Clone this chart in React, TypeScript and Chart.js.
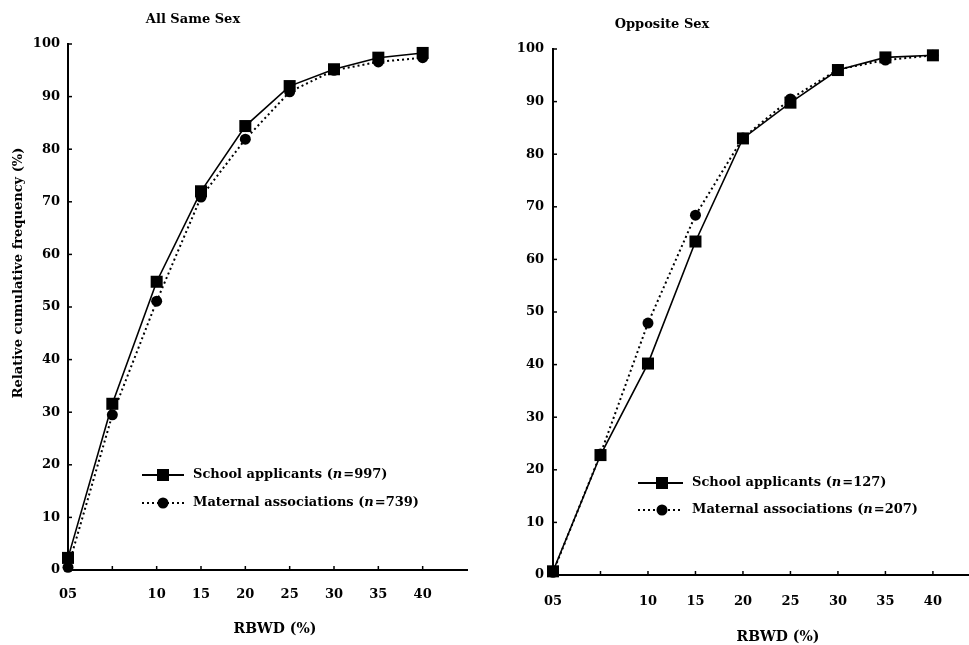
import React, { useEffect, useRef } from "react";
import { Chart, registerables } from "chart.js";

Chart.register(...registerables);

// ---------- data ----------
const xValues = [0, 5, 10, 15, 20, 25, 30, 35, 40];
const xTickLabels = ["05", "", "10", "15", "20", "25", "30", "35", "40"];
const seriesNames = ["School applicants", "Maternal associations"];

const sameSexSchool = [2.3, 31.6, 54.8, 72.0, 84.4, 92.0, 95.2, 97.4, 98.3];
const sameSexMaternal = [0.5, 29.5, 51.1, 70.9, 81.9, 90.9, 95.0, 96.6, 97.4];
const sameSexN = [997, 739];

const oppSexSchool = [0.7, 22.8, 40.2, 63.4, 83.0, 89.8, 96.0, 98.4, 98.8];
const oppSexMaternal = [0.5, 23.0, 47.9, 68.4, 83.1, 90.5, 96.1, 97.9, 98.8];
const oppSexN = [127, 207];

const panelTitles = ["All Same Sex", "Opposite Sex"];
const yAxisTitle = "Relative cumulative frequency (%)";
const xAxisTitle = "RBWD (%)";

const FONT = '"DejaVu Serif", "Liberation Serif", serif';

type PanelSpec = {
  width: number;
  height: number;
  chartLeft: number;
  chartTop: number;
  chartBottom: number;
  chartRightPad: number;
  xMax: number;
  title: string;
  titleX: number;
  titleY: number;
  showYTitle: boolean;
  yTitleX: number;
  yTitleY: number;
  xTitleX: number;
  xTitleY: number;
  legendRows: number[];
  legendLine: number[];
  legendMarkerX: number;
  legendTextX: number;
  school: number[];
  maternal: number[];
  nValues: number[];
  tickPadX: number;
  tickPadY: number;
};

function makeDecor(spec: PanelSpec) {
  return {
    id: "decor",
    afterDraw(chart: any) {
      const ctx: CanvasRenderingContext2D = chart.ctx;
      const xs = chart.scales.x;
      const ys = chart.scales.y;
      ctx.save();
      ctx.strokeStyle = "#000";
      ctx.fillStyle = "#000";
      ctx.lineWidth = 1.5;
      // inward tick marks
      ys.ticks.forEach((t: any) => {
        const py = ys.getPixelForValue(t.value);
        ctx.beginPath();
        ctx.moveTo(ys.right, py);
        ctx.lineTo(ys.right + 4, py);
        ctx.stroke();
      });
      xs.ticks.forEach((t: any) => {
        const px = xs.getPixelForValue(t.value);
        ctx.beginPath();
        ctx.moveTo(px, xs.top);
        ctx.lineTo(px, xs.top - 4);
        ctx.stroke();
      });

      // titles
      ctx.textAlign = "center";
      ctx.textBaseline = "middle";
      ctx.font = `bold 13px ${FONT}`;
      ctx.fillText(spec.title, spec.titleX, spec.titleY);
      ctx.font = `bold 14px ${FONT}`;
      ctx.fillText(xAxisTitle, spec.xTitleX, spec.xTitleY);
      if (spec.showYTitle) {
        ctx.save();
        ctx.translate(spec.yTitleX, spec.yTitleY);
        ctx.rotate(-Math.PI / 2);
        ctx.font = `bold 13px ${FONT}`;
        ctx.fillText(yAxisTitle, 0, 0);
        ctx.restore();
      }

      // legend
      ctx.textAlign = "left";
      for (let i = 0; i < 2; i++) {
        const y = spec.legendRows[i];
        ctx.save();
        ctx.lineWidth = 2;
        ctx.setLineDash(i === 0 ? [] : [2, 3]);
        ctx.beginPath();
        ctx.moveTo(spec.legendLine[0], y);
        ctx.lineTo(spec.legendLine[1], y);
        ctx.stroke();
        ctx.restore();
        ctx.beginPath();
        if (i === 0) {
          ctx.rect(spec.legendMarkerX - 6, y - 6, 12, 12);
        } else {
          ctx.arc(spec.legendMarkerX, y, 5.5, 0, Math.PI * 2);
        }
        ctx.fill();
        let x = spec.legendTextX;
        const parts: [string, string][] = [
          [seriesNames[i] + " (", "bold"],
          ["n", "italic bold"],
          ["=" + spec.nValues[i] + ")", "bold"],
        ];
        parts.forEach(([txt, style]) => {
          ctx.font = `${style} 13px ${FONT}`;
          ctx.fillText(txt, x, y);
          x += ctx.measureText(txt).width + (txt === "n" ? 1 : 0);
        });
      }
      ctx.restore();
    },
  };
}

function Panel({ spec, left }: { spec: PanelSpec; left: number }) {
  const ref = useRef<HTMLCanvasElement | null>(null);
  useEffect(() => {
    if (!ref.current) return;
    const tickFont = { family: FONT, size: 13, weight: "bold" as const };
    const chart = new Chart(ref.current, {
      type: "line",
      data: {
        datasets: [
          {
            label: seriesNames[0],
            data: xValues.map((x, i) => ({ x, y: spec.school[i] })),
            borderColor: "#000",
            backgroundColor: "#000",
            borderWidth: 1.6,
            pointStyle: "rect",
            pointRadius: 8.5,
            pointBorderWidth: 0,
            pointBackgroundColor: "#000",
            clip: false as any,
            tension: 0,
          },
          {
            label: seriesNames[1],
            data: xValues.map((x, i) => ({ x, y: spec.maternal[i] })),
            borderColor: "#000",
            backgroundColor: "#000",
            borderWidth: 2,
            borderDash: [2, 3],
            pointStyle: "circle",
            pointRadius: 5.5,
            pointBorderWidth: 0,
            pointBackgroundColor: "#000",
            clip: false as any,
            tension: 0,
          },
        ],
      },
      options: {
        responsive: false,
        animation: false,
        devicePixelRatio: 1,
        layout: {
          padding: { left: 0, top: spec.chartTop, right: spec.chartRightPad, bottom: 0 },
        },
        plugins: {
          legend: { display: false },
          title: { display: false },
          tooltip: { enabled: false },
        },
        scales: {
          x: {
            type: "linear",
            min: 0,
            max: spec.xMax,
            afterBuildTicks: (s: any) => {
              s.ticks = xValues.map((v) => ({ value: v }));
            },
            afterFit: (s: any) => {
              s.height = spec.height - spec.chartBottom;
            },
            ticks: {
              autoSkip: false,
              maxRotation: 0,
              padding: spec.tickPadX,
              color: "#000",
              font: tickFont,
              callback: (_v: any, i: number) => xTickLabels[i] ?? "",
            },
            grid: { display: false, drawTicks: false },
            border: { display: true, color: "#000", width: 2 },
          },
          y: {
            type: "linear",
            min: 0,
            max: 100,
            afterFit: (s: any) => {
              s.width = spec.chartLeft;
            },
            ticks: {
              stepSize: 10,
              padding: spec.tickPadY,
              color: "#000",
              font: tickFont,
            },
            grid: { display: false, drawTicks: false },
            border: { display: true, color: "#000", width: 2 },
          },
        },
      } as any,
      plugins: [makeDecor(spec)],
    });
    return () => chart.destroy();
  }, [spec]);
  return (
    <canvas
      ref={ref}
      width={spec.width}
      height={spec.height}
      style={{ position: "absolute", left, top: 0, width: spec.width, height: spec.height }}
    />
  );
}

const leftSpec: PanelSpec = {
  width: 490,
  height: 645,
  chartLeft: 68,
  chartTop: 44,
  chartBottom: 570,
  chartRightPad: 23,
  xMax: 45,
  title: panelTitles[0],
  titleX: 193,
  titleY: 20,
  showYTitle: true,
  yTitleX: 19,
  yTitleY: 273,
  xTitleX: 275,
  xTitleY: 629,
  legendRows: [475, 503],
  legendLine: [142, 184],
  legendMarkerX: 163,
  legendTextX: 193,
  school: sameSexSchool,
  maternal: sameSexMaternal,
  nValues: sameSexN,
  tickPadX: 17,
  tickPadY: 8,
};

const rightSpec: PanelSpec = {
  width: 502,
  height: 645,
  chartLeft: 63,
  chartTop: 49,
  chartBottom: 575,
  chartRightPad: 23,
  xMax: 43.8,
  title: panelTitles[1],
  titleX: 172,
  titleY: 25,
  showYTitle: false,
  yTitleX: 0,
  yTitleY: 0,
  xTitleX: 288,
  xTitleY: 637,
  legendRows: [483, 510],
  legendLine: [148, 193],
  legendMarkerX: 172,
  legendTextX: 202,
  school: oppSexSchool,
  maternal: oppSexMaternal,
  nValues: oppSexN,
  tickPadX: 19,
  tickPadY: 9,
};

export default function App() {
  return (
    <div
      style={{
        position: "absolute",
        left: 0,
        top: 0,
        width: 969,
        height: 645,
        background: "#fff",
        overflow: "hidden",
      }}
    >
      <Panel spec={leftSpec} left={0} />
      <Panel spec={rightSpec} left={490} />
    </div>
  );
}
